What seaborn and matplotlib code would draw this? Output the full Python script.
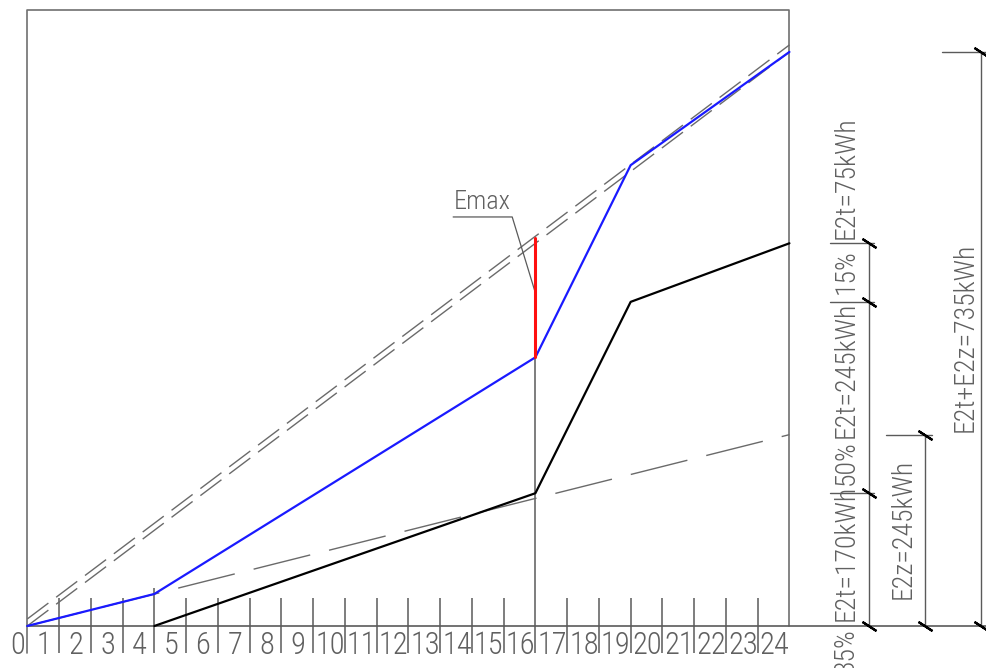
import matplotlib
matplotlib.use('Agg')
import numpy as np
import pandas as pd
import matplotlib.pyplot as plt
import seaborn as sns
from matplotlib import font_manager

# data (hours / kWh)
hour_labels = [str(h) for h in range(25)]
blue_hours = [0, 4, 16, 19, 24]
blue_kwh = [0, 41, 344, 590, 735]
black_hours = [4, 16, 19, 24]
black_kwh = [0, 170, 415, 490]
e2z_hours = [0, 24]
e2z_kwh = [0, 245]
total_hours = [0, 24]
total_kwh = [0, 735]
total_kwh_upper = [9, 744]
emax_hour = 16
emax_low = 344
emax_high = 497
e2t_parts = [170, 245, 75]
e2t_pct = ['35%', '50%', '15%']
e2z_total = 245
e2_total = 735

sns.set_style('white')
installed = {f.name for f in font_manager.fontManager.ttflist}
fams = [f for f in ['Roboto Condensed', 'Liberation Sans Narrow'] if f in installed] + ['DejaVu Sans']
plt.rcParams['font.family'] = fams

GRAY = '#5a5a5a'
TXT = '#606060'
FRAME = '#707070'

fig = plt.figure(figsize=(9.86, 6.68), dpi=100)
ax = fig.add_axes([0, 0, 1, 1])
ax.set_xlim(-0.86, 30.19)
ax.set_ylim(-53.8, 801.5)
ax.axis('off')

top_e = 788.7

# frame
ax.plot([0, 0, 24, 24], [-35, top_e, top_e, 0], color=FRAME, lw=1.2, zorder=1)
# base line through the whole drawing
ax.plot([0, 30.2], [0, 0], color=GRAY, lw=1.2, zorder=1)

# hour ticks
tick_top = [36] * 24
tick_top[4] = 48
tick_top[16] = emax_low
ax.vlines(range(1, 24), -35, tick_top[1:], color=GRAY, lw=1.1, zorder=1)
for h, lab in enumerate(hour_labels):
    xpos = -0.3 if h == 0 else h - 0.47
    ax.text(xpos, -25, lab, ha='center', va='center', fontsize=22,
            color=TXT, fontweight='light')

# dashed reference lines
sns.lineplot(x=total_hours, y=total_kwh, ax=ax, color='#6a6a6a', lw=1.0, zorder=2)
ax.lines[-1].set_dashes([19, 7])
sns.lineplot(x=total_hours, y=total_kwh_upper, ax=ax, color='#6a6a6a', lw=1.0, zorder=2)
ax.lines[-1].set_dashes([19, 7])
sns.lineplot(x=e2z_hours, y=e2z_kwh, ax=ax, color='#6a6a6a', lw=1.0, zorder=2)
ax.lines[-1].set_dashes([42, 14])

# main curves
sns.lineplot(x=black_hours, y=black_kwh, ax=ax, color='black', lw=1.6, sort=False, zorder=3)
sns.lineplot(x=blue_hours, y=blue_kwh, ax=ax, color='#1a1aff', lw=1.6, sort=False, zorder=4)
ax.plot([emax_hour, emax_hour], [emax_low, emax_high], color='#ff1010', lw=2.2, zorder=5)

# Emax label with leader
ax.plot([13.41, 15.27, 16.02], [523.7, 523.7, 423.8], color=GRAY, lw=0.9, zorder=3)
ax.text(13.42, 527, 'Emax', ha='left', va='bottom', fontsize=19, color=TXT,
        fontweight='light')

# dimension lines on the right
tick_marker = (2, 2, 57)
levels = np.cumsum([0] + e2t_parts)
d1 = 26.51
ax.plot([d1, d1], [0, levels[-1]], color=GRAY, lw=1.0)
for lv in levels[1:]:
    ax.plot([25.28, 26.65], [lv, lv], color=GRAY, lw=1.0)
ax.plot([d1] * len(levels), levels, ls='none', marker=tick_marker, ms=12,
        mec='black', mew=1.6)
txt_pos = [93.5, 328, 573.6]
pct_pos = [-32, 209, 454]
for part, pct, tp, pp in zip(e2t_parts, e2t_pct, txt_pos, pct_pos):
    ax.text(25.8, tp, f'E2t={part}kWh', rotation=90, ha='center', va='center',
            fontsize=20, color=TXT, fontweight='light')
    ax.text(25.8, pp, pct, rotation=90, ha='center', va='center',
            fontsize=20, color=TXT, fontweight='light')

d2 = 28.27
ax.plot([d2, d2], [0, e2z_total], color=GRAY, lw=1.0)
ax.plot([27.04, 28.49], [e2z_total, e2z_total], color=GRAY, lw=1.0)
ax.plot([d2, d2], [0, e2z_total], ls='none', marker=tick_marker, ms=12,
        mec='black', mew=1.6)
ax.text(27.57, 124, f'E2z={e2z_total}kWh', rotation=90, ha='center', va='center',
        fontsize=20, color=TXT, fontweight='light')

d3 = 30.04
ax.plot([d3, d3], [0, e2_total], color=GRAY, lw=1.0)
ax.plot([28.81, 30.25], [e2_total, e2_total], color=GRAY, lw=1.0)
ax.plot([d3, d3], [0, e2_total], ls='none', marker=tick_marker, ms=12,
        mec='black', mew=1.6)
ax.text(29.53, 369, f'E2t+E2z={e2_total}kWh', rotation=90, ha='center', va='center',
        fontsize=20, color=TXT, fontweight='light')

fig.savefig('out.png', dpi=100)
